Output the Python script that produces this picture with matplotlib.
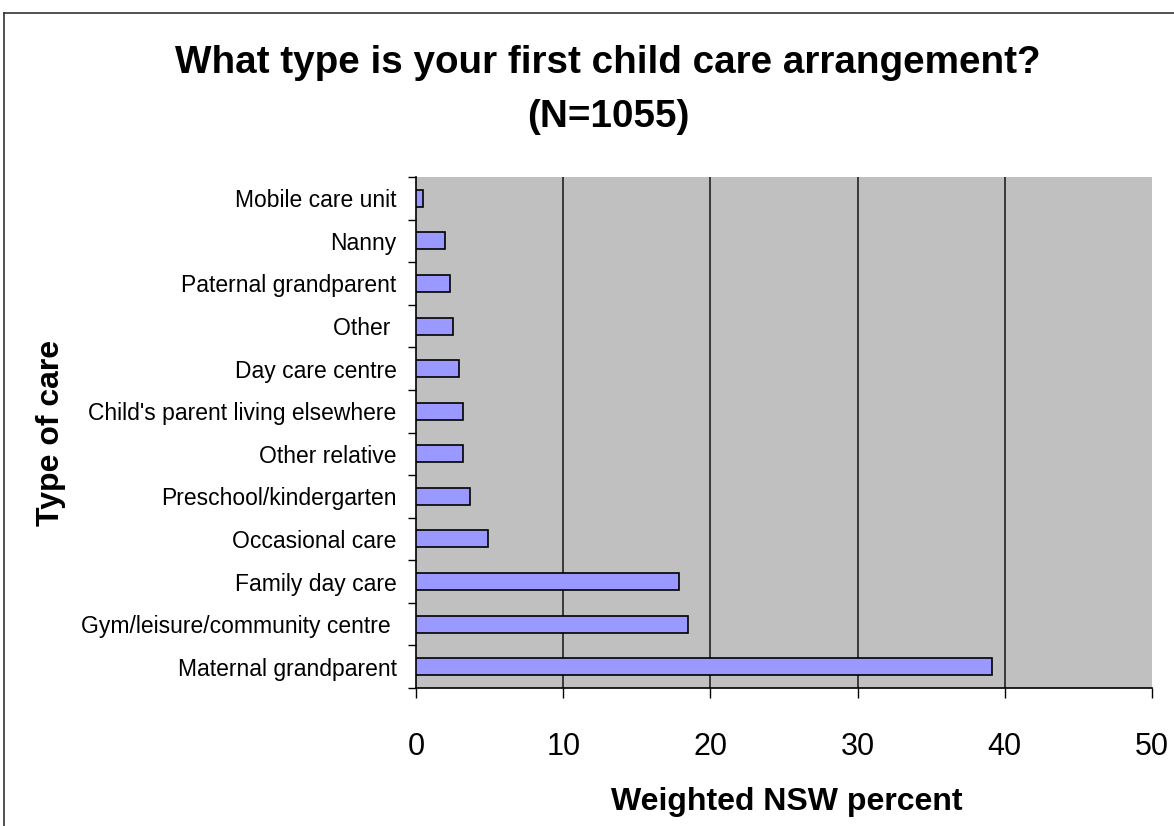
import numpy as np
import matplotlib.pyplot as plt
from matplotlib.lines import Line2D

plt.rcParams['font.family'] = ['Liberation Sans', 'DejaVu Sans']

# categories listed bottom to top
care_types = ["Maternal grandparent", "Gym/leisure/community centre ", "Family day care",
              "Occasional care", "Preschool/kindergarten", "Other relative",
              "Child's parent living elsewhere", "Day care centre", "Other ",
              "Paternal grandparent", "Nanny", "Mobile care unit"]
percent = [39.1, 18.5, 17.9, 4.9, 3.7, 3.2, 3.2, 2.9, 2.5, 2.3, 2.0, 0.5]
x_ticks = [0, 10, 20, 30, 40, 50]

W, H = 1174, 826
fig = plt.figure(figsize=(W/100, H/100), dpi=100)
ax = fig.add_axes([416/W, 1-688/H, (1152-416)/W, (688-177)/H])
ax.set_facecolor('#c0c0c0')

y = np.arange(len(care_types))
ax.barh(y, percent, height=0.4, color='#9999ff', edgecolor='black', linewidth=1.2, zorder=3)

ax.set_xlim(0, 50)
ax.set_ylim(-0.5, len(care_types)-0.5)
ax.set_xticks(x_ticks)
ax.set_xticklabels([str(t) for t in x_ticks], fontsize=22)
ax.tick_params(axis='x', length=7, width=1, pad=25, direction='out')

ax.set_yticks(y)
ax.set_yticklabels(care_types, fontsize=16.5)
ax.tick_params(axis='y', which='major', length=0, pad=14)
ax.set_yticks(np.arange(-0.5, len(care_types), 1), minor=True)
ax.tick_params(axis='y', which='minor', length=6, width=1, direction='out')

for t in x_ticks[1:-1]:
    ax.axvline(t, color='#222222', linewidth=1.2, zorder=1)

for s in ['top', 'right']:
    ax.spines[s].set_visible(False)
ax.spines['left'].set_linewidth(1.2)
ax.spines['bottom'].set_linewidth(1.2)

fig.text(608/W, 1-90/H, "What type is your first child care arrangement?\n(N=1055)",
         ha='center', va='center', fontsize=27.8, fontweight='bold', linespacing=1.65)
fig.text(51/W, 1-433/H, "Type of care", rotation=90, ha='center', va='center',
         fontsize=23, fontweight='bold')
fig.text(787/W, 1-802/H, "Weighted NSW percent", ha='center', va='center',
         fontsize=23, fontweight='bold')

# outer chart frame
fig.add_artist(Line2D([3.5/W, 3.5/W], [0, 1-12.5/H], transform=fig.transFigure, color='#333333', lw=1.2))
fig.add_artist(Line2D([3.5/W, 1], [1-12.5/H, 1-12.5/H], transform=fig.transFigure, color='#333333', lw=1.2))

fig.savefig('out.png', dpi=100)
